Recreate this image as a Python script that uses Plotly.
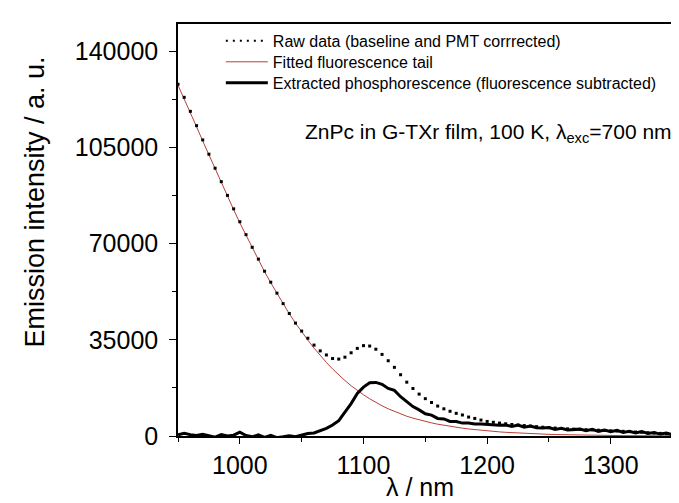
import plotly.graph_objects as go

# Wavelength grid (nm), 5 nm steps from 950 to 1360
wavelength = list(range(950, 1365, 5))

# Fitted fluorescence tail (a.u.)
fit_tail = [127700, 122800, 117700, 112600, 107400, 102300, 97300, 92300, 87300, 82400,
            77600, 73000, 68500, 64100, 59800, 55800, 51900, 48100, 44500, 41100,
            37900, 34900, 32000, 29300, 26800, 24400, 22200, 20200, 18300, 16600,
            15000, 13550, 12200, 11000, 9900, 8900, 8000, 7200, 6500, 5850,
            5300, 4780, 4300, 3880, 3500, 3160, 2850, 2560, 2300, 2060,
            1850, 1670, 1500, 1340, 1200, 1070, 950, 850, 760, 680,
            600, 530, 470, 420, 370, 330, 290, 260, 230, 205,
            180, 160, 140, 125, 110, 97, 85, 75, 65, 57,
            50, 45, 40]

# Extracted phosphorescence (fluorescence subtracted)
extracted = [400, 1000, 500, 200, 600, 100, -400, 500, 0, 300,
             1400, 200, -300, 400, -500, 200, -600, -300, 100, -300,
             300, 900, 1100, 1900, 2800, 4000, 5600, 8700, 11800, 15500,
             17800, 19400, 19500, 18800, 17300, 16600, 14300, 12500, 10700, 9500,
             8100, 7600, 6400, 6200, 5300, 5300, 4700, 4700, 4400, 4400,
             4200, 4200, 3900, 4000, 3500, 4000, 3200, 3600, 3000, 2900,
             3100, 2400, 2800, 2200, 2300, 2500, 1900, 2400, 1700, 2200,
             1600, 2100, 1300, 1700, 1100, 1600, 900, 1300, 700, 1100,
             400, 800, 300]

# Raw data (baseline and PMT corrected)
raw_data = [128100, 123300, 118200, 113000, 107800, 102600, 97500, 92600, 87600, 82700,
            78000, 73300, 68700, 64400, 60000, 56000, 52000, 48200, 44600, 41100,
            38200, 35600, 33100, 31000, 29500, 28200, 28000, 28700, 30300, 31900,
            32900, 32750, 31600, 29700, 27400, 25000, 22300, 19600, 17300, 15250,
            13600, 12200, 10900, 9900, 9000, 8250, 7650, 6900, 6400, 5800,
            5300, 5000, 4700, 4450, 4200, 4000, 3800, 3600, 3400, 3200,
            3050, 2900, 2750, 2600, 2500, 2400, 2300, 2200, 2100, 2000,
            1900, 1800, 1700, 1600, 1450, 1350, 1200, 1050, 950, 850,
            700, 600, 450]

legend_names = ["Raw data (baseline and PMT corrrected)",
                "Fitted fluorescence tail",
                "Extracted phosphorescence (fluorescence subtracted)"]

FONT = "Liberation Sans, Arial, sans-serif"
RED = "#b5403c"

fig = go.Figure()
# legend-only entry for raw data (dotted sample)
fig.add_trace(go.Scatter(x=[None], y=[None], mode="lines", name=legend_names[0],
                         legend="legend",
                         line=dict(color="black", width=2, dash="2px,5px")))
fig.add_trace(go.Scatter(x=wavelength, y=fit_tail, mode="lines", name=legend_names[1],
                         legend="legend2",
                         line=dict(color=RED, width=1)))
fig.add_trace(go.Scatter(x=wavelength, y=extracted, mode="lines", name=legend_names[2],
                         legend="legend3",
                         line=dict(color="black", width=3)))
fig.add_trace(go.Scatter(x=wavelength, y=raw_data, mode="markers", showlegend=False,
                         marker=dict(color="black", size=3, symbol="square")))

axis_common = dict(showline=True, linecolor="black", linewidth=1.5, mirror=True,
                   showgrid=False, zeroline=False, ticks="outside", tickcolor="black",
                   tickwidth=1.2, tickfont=dict(family=FONT, size=25, color="black"))

fig.update_xaxes(range=[950, 1360], tick0=1000, dtick=100, ticklen=6,
                 minor=dict(dtick=50, tick0=950, ticks="outside", ticklen=4, tickcolor="black"),
                 **axis_common)
fig.update_yaxes(range=[0, 150000], tick0=0, dtick=35000, ticklen=7,
                 tickformat="d", ticklabelstandoff=6,
                 minor=dict(dtick=17500, ticks="outside", ticklen=4, tickcolor="black"),
                 **axis_common)

leg_common = dict(x=0.0845, xanchor="left", yanchor="middle", itemwidth=42,
                  bgcolor="rgba(0,0,0,0)", borderwidth=0,
                  font=dict(family=FONT, size=16, color="black"))

fig.update_layout(
    width=679, height=503,
    margin=dict(l=170, r=0, t=16, b=75),
    paper_bgcolor="white", plot_bgcolor="white",
    font=dict(family=FONT, color="black"),
    showlegend=True,
    legend=dict(y=0.959, **leg_common),
    legend2=dict(y=0.908, **leg_common),
    legend3=dict(y=0.857, **leg_common),
    annotations=[
        dict(text="Emission intensity / a. u.", xref="paper", yref="paper",
             x=-0.283, y=0.568, xanchor="center", yanchor="middle", textangle=-90,
             showarrow=False, font=dict(family=FONT, size=27, color="black")),
        dict(text="λ / nm", xref="paper", yref="paper",
             x=0.477, y=-0.124, xanchor="center", yanchor="middle",
             showarrow=False, font=dict(family=FONT, size=25, color="black")),
        dict(text="ZnPc in G-TXr film, 100 K, λ<sub>exc</sub>=700 nm", xref="paper", yref="paper",
             x=0.978, y=0.735, xanchor="right", yanchor="middle",
             showarrow=False, font=dict(family=FONT, size=21, color="black")),
    ],
)

fig.write_html("out.html")
